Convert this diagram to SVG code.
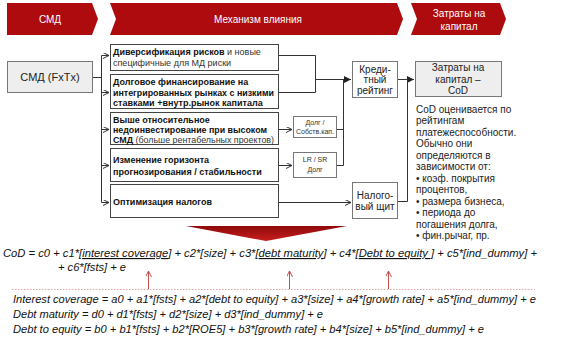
<svg xmlns="http://www.w3.org/2000/svg" width="573" height="349" viewBox="0 0 573 349">
<defs>
<style>
text{font-family:"Liberation Sans",Arial,sans-serif;fill:#222}
.hd{fill:#fff;font-size:10px;text-anchor:middle}
.chev{fill:#AD0B0E}
.box{fill:#fff;stroke:#444;stroke-width:1}
.gbox{fill:#eeeeee;stroke:#777;stroke-width:1}
.sbox{fill:#fff;stroke:#777;stroke-width:1}
.bt{font-size:9px;font-weight:bold;fill:#111}
.nt{font-size:9px;font-weight:normal;fill:#333}
.ct{font-size:10px;text-anchor:middle;fill:#222}
.st{font-size:7px;text-anchor:middle;fill:#333}
.rt{font-size:10px;fill:#222}
.fm{font-size:11.5px;font-style:italic;fill:#111}
.ul{text-decoration:underline}
.ln{fill:none;stroke:#333;stroke-width:1}
.ao{fill:none;stroke:#333;stroke-width:1;marker-end:url(#mo)}
.af{fill:none;stroke:#333;stroke-width:1;marker-end:url(#mf)}
.ra{fill:none;stroke:#C0504D;stroke-width:1;marker-end:url(#mr)}
</style>
<marker id="mo" markerUnits="userSpaceOnUse" markerWidth="8" markerHeight="8" refX="6" refY="3" orient="auto"><path d="M0,0 L6,3 L0,6" fill="none" stroke="#333" stroke-width="1"/></marker>
<marker id="mf" markerUnits="userSpaceOnUse" markerWidth="8" markerHeight="8" refX="7" refY="3.5" orient="auto"><path d="M0,0 L7,3.5 L0,7 z" fill="#222"/></marker>
<marker id="mr" markerUnits="userSpaceOnUse" markerWidth="8" markerHeight="8" refX="6" refY="3" orient="auto"><path d="M0,0 L6,3 L0,6" fill="none" stroke="#C0504D" stroke-width="1"/></marker>
<linearGradient id="tg" x1="0" y1="0" x2="0" y2="1"><stop offset="0" stop-color="#8E0A0A"/><stop offset="1" stop-color="#C81E1E"/></linearGradient>
</defs>
<rect width="573" height="349" fill="#fff"/>

<g id="header">
<polygon class="chev" points="7,3 92,3 98,19 92,35 7,35"/>
<text class="hd" x="50" y="23">СМД</text>
<polygon class="chev" points="110,3 397,3 403,19 397,35 110,35 116,19"/>
<text class="hd" x="258" y="23">Механизм влияния</text>
<polygon class="chev" points="411,3 500,3 506,19 500,35 411,35 417,19"/>
<text class="hd" x="459" y="17">Затраты на</text>
<text class="hd" x="459" y="30">капитал</text>
</g>

<g id="connectors">
<path class="ln" d="M93,77.5 H101.5 M101.5,55.5 V202.5"/>
<path class="ao" d="M101.5,55.5 H109"/>
<path class="ao" d="M101.5,92.5 H109"/>
<path class="ao" d="M101.5,129.5 H109"/>
<path class="ao" d="M101.5,165.5 H109"/>
<path class="ao" d="M101.5,202.5 H109"/>
<path class="ln" d="M279,55.5 H315.5 V92.5 H279"/>
<path class="af" d="M315.5,79.5 H351"/>
<path class="ao" d="M279,129.5 H292"/>
<path class="ao" d="M279,165.5 H292"/>
<path class="ln" d="M337,129.5 H343.5 M337,165.5 H343.5 V79.5"/>
<path class="af" d="M398,79.5 H414"/>
<path class="ln" d="M398,201.5 H407.5 V79.5"/>
<path class="ao" d="M279,202.5 H351"/>
</g>

<g id="smd">
<rect class="gbox" x="7.5" y="61.5" width="85" height="31"/>
<text x="50" y="81" style="font-size:11px;text-anchor:middle">СМД (FxTx)</text>
</g>

<g id="m1">
<rect class="box" x="110.5" y="44.5" width="168" height="26"/>
<text x="113" y="54.5"><tspan class="bt">Диверсификация рисков</tspan><tspan class="nt"> и новые</tspan></text>
<text class="nt" x="113" y="65.5">специфичные для МД риски</text>
</g>
<g id="m2">
<rect class="box" x="110.5" y="74.5" width="168" height="34"/>
<text class="bt" x="113" y="84.5">Долговое финансирование на</text>
<text class="bt" x="113" y="95.5" textLength="161" lengthAdjust="spacingAndGlyphs">интегрированных рынках с низкими</text>
<text class="bt" x="113" y="106">ставками +внутр.рынок капитала</text>
</g>
<g id="m3">
<rect class="box" x="110.5" y="112.5" width="168" height="32"/>
<text class="bt" x="113" y="122.5">Выше относительное</text>
<text class="bt" x="113" y="133" textLength="154" lengthAdjust="spacingAndGlyphs">недоинвестирование при высоком</text>
<text x="113" y="143" textLength="161" lengthAdjust="spacingAndGlyphs"><tspan class="bt">СМД</tspan><tspan class="nt"> (больше рентабельных проектов)</tspan></text>
</g>
<g id="m4">
<rect class="box" x="110.5" y="148.5" width="168" height="33"/>
<text class="bt" x="113" y="163">Изменение горизонта</text>
<text class="bt" x="113" y="174.5">прогнозирования / стабильности</text>
</g>
<g id="m5">
<rect class="box" x="110.5" y="184.5" width="168" height="33"/>
<text class="bt" x="113" y="205">Оптимизация налогов</text>
</g>

<g id="debt-equity">
<rect class="sbox" x="293.5" y="116.5" width="43" height="21"/>
<text class="st" x="315" y="125">Долг /</text>
<text class="st" x="315" y="134">Собств.кап.</text>
</g>
<g id="lr-sr">
<rect class="sbox" x="293.5" y="152.5" width="43" height="25"/>
<text class="st" x="315" y="162">LR / SR</text>
<text class="st" x="315" y="172">Долг</text>
</g>

<g id="rating">
<rect class="sbox" x="352.5" y="61.5" width="45" height="36"/>
<text class="ct" x="375" y="72.5">Креди-</text>
<text class="ct" x="375" y="83">тный</text>
<text class="ct" x="375" y="93.5">рейтинг</text>
</g>
<g id="taxshield">
<rect class="sbox" x="352.5" y="182.5" width="45" height="36"/>
<text class="ct" x="375" y="199">Налого-</text>
<text class="ct" x="375" y="210">вый щит</text>
</g>
<g id="cod">
<rect class="gbox" x="415.5" y="61.5" width="86" height="35"/>
<text class="ct" x="458" y="71">Затраты на</text>
<text class="ct" x="458" y="82.5">капитал –</text>
<text class="ct" x="458" y="94">CoD</text>
</g>

<g id="note">
<text class="rt" x="416" y="112.5">CoD оценивается по</text>
<text class="rt" x="416" y="124">рейтингам</text>
<text class="rt" x="416" y="135.5">платежеспособности.</text>
<text class="rt" x="416" y="147">Обычно они</text>
<text class="rt" x="416" y="158.5">определяются в</text>
<text class="rt" x="416" y="170">зависимости от:</text>
<text class="rt" x="416" y="181.5">• коэф.  покрытия</text>
<text class="rt" x="416" y="193">процентов,</text>
<text class="rt" x="416" y="204.5">• размера бизнеса,</text>
<text class="rt" x="416" y="216">• периода до</text>
<text class="rt" x="416" y="227.5">погашения долга,</text>
<text class="rt" x="416" y="239">• фин.рычаг, пр.</text>
</g>

<g id="big-arrow">
<polygon points="186,226 347,226 266,241" fill="url(#tg)"/>
</g>

<g id="formulas">
<text class="fm" x="3" y="257" textLength="534" lengthAdjust="spacingAndGlyphs">CoD = c0 + c1*[<tspan class="ul">interest coverage</tspan>] + c2*[size] + c3*[<tspan class="ul">debt maturity</tspan>] + c4*[<tspan class="ul">Debt to equity ]</tspan> + c5*[ind_dummy]  +</text>
<text class="fm" x="58" y="271" textLength="68" lengthAdjust="spacingAndGlyphs">+ c6*[fsts] + e</text>
<path d="M12,289.5 H535" stroke="#E3A5A5" stroke-width="1" stroke-dasharray="1.5,1.5" fill="none"/>
<path class="ra" d="M148.5,289 V271"/>
<path class="ra" d="M289.5,289 V271"/>
<path class="ra" d="M388.5,289 V271"/>
<text class="fm" x="13" y="303" textLength="523" lengthAdjust="spacingAndGlyphs">Interest coverage = a0 + a1*[fsts] + a2*[debt to equity] + a3*[size] + a4*[growth rate] + a5*[ind_dummy] + e</text>
<text class="fm" x="13" y="318" textLength="310" lengthAdjust="spacingAndGlyphs">Debt maturity = d0 + d1*[fsts] + d2*[size] + d3*[ind_dummy] + e</text>
<text class="fm" x="13" y="333" textLength="471" lengthAdjust="spacingAndGlyphs">Debt to equity = b0 + b1*[fsts] + b2*[ROE5] + b3*[growth rate] + b4*[size] + b5*[ind_dummy] + e</text>
</g>
</svg>
